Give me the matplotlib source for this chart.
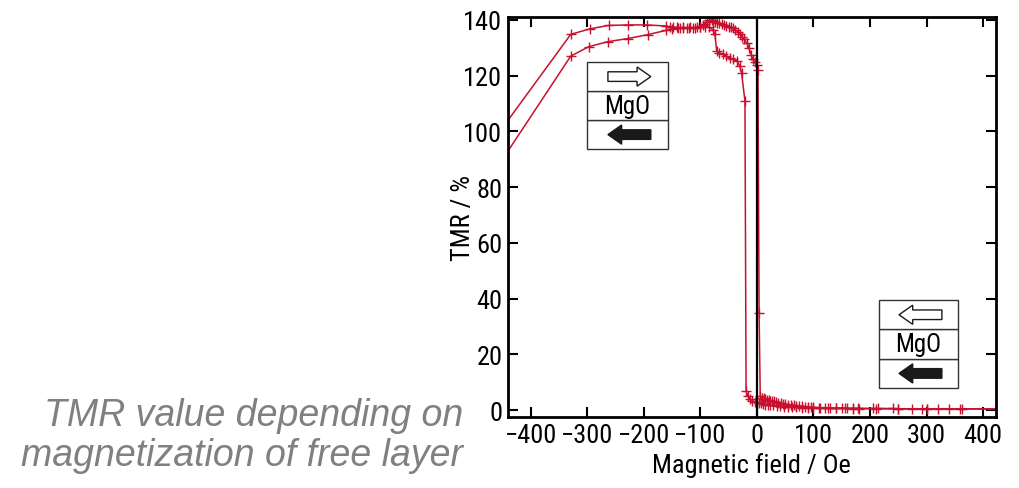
import matplotlib
matplotlib.use("Agg")
import matplotlib.pyplot as plt
from matplotlib import font_manager
from matplotlib.patches import Rectangle, Polygon

RED = "#c8102e"

# branch that stays high up to ~0 Oe
upper_h = [-460, -329, -295, -262, -228, -195, -160, -154, -148, -142, -136, -130, -124,
           -118, -112, -106, -101, -96, -92, -88, -84, -80, -77, -74, -70, -66, -62, -58,
           -54, -50, -46, -42, -38, -34, -30, -26, -22, -18, -14, -10, -7, -4, 0, 2, 4]
upper_t = [98.4, 134.8, 136.8, 138.0, 138.2, 138.2, 137.8, 137.5, 137.4, 137.3, 137.2, 137.3,
           137.2, 137.3, 137.2, 137.4, 137.5, 138.0, 138.6, 139.2, 139.8, 140.0, 139.6, 139.3,
           139.0, 138.8, 138.5, 138.2, 137.9, 137.6, 137.4, 137.0, 136.4, 135.8, 135.0, 134.0,
           133.0, 131.8, 130.0, 127.5, 125.8, 124.8, 123.8, 122.0, 35.0]
upper_tail_h = [6, 9, 12, 15, 18, 21, 24, 27, 30, 34, 38, 42, 46, 50, 55, 60, 65, 70, 75,
                80, 85, 90, 95, 100, 110, 120, 130, 140, 150, 160, 170, 178, 205, 215, 240,
                250, 275, 292, 300, 320, 340, 362, 440]
upper_tail_t = [5.0, 4.5, 4.2, 4.0, 3.8, 3.6, 3.4, 3.3, 3.1, 2.9, 2.7, 2.5, 2.3, 2.2, 2.0,
                1.8, 1.7, 1.6, 1.5, 1.4, 1.3, 1.2, 1.1, 1.0, 0.9, 0.9, 0.8, 0.8, 0.8, 0.7,
                0.7, 0.7, 0.6, 0.6, 0.6, 0.5, 0.5, 0.5, 0.5, 0.5, 0.5, 0.5, 0.4]

# branch that switches near -20 Oe
lower_h = [-460, -329, -297, -263, -228, -193, -161, -150, -140, -130, -120, -110, -100,
           -92, -85, -78, -74, -71, -66, -60, -54, -48, -42, -35, -30, -27, -21, -19, -16,
           -12, -8, -4, 0, 3, 7, 11, 15, 19, 24, 29, 35, 41, 48, 55, 62, 70, 80, 90, 100,
           112, 125, 140, 155, 170, 180, 210, 250, 300, 360, 440]
lower_t = [86.8, 127.0, 130.4, 132.2, 133.3, 134.7, 136.2, 136.8, 137.0, 137.1, 137.2, 137.2,
           137.3, 137.4, 137.5, 136.5, 134.8, 128.8, 128.2, 127.6, 127.0, 126.4, 125.8, 125.2,
           123.4, 121.0, 110.9, 6.8, 5.0, 4.0, 3.4, 3.0, 2.8, 2.6, 2.4, 2.2, 2.0, 1.9, 1.8,
           1.7, 1.5, 1.4, 1.3, 1.2, 1.1, 1.0, 0.9, 0.8, 0.7, 0.7, 0.6, 0.6, 0.6, 0.5, 0.5,
           0.5, 0.4, 0.4, 0.4, 0.4]

x_ticks = [-400, -300, -200, -100, 0, 100, 200, 300, 400]
y_ticks = [0, 20, 40, 60, 80, 100, 120, 140]

# the original uses a condensed face; take one if the box has it
fonts = font_manager.fontManager.ttflist
names = {f.name for f in fonts}
cond = None
for n in ["Liberation Sans Narrow", "Roboto Condensed", "Open Sans Condensed",
          "Noto Sans Condensed", "DejaVu Sans Condensed"]:
    if n in names:
        cond = (n, "normal")
        break
if cond is None:
    for f in fonts:
        if "condensed" in str(f.stretch) or f.stretch in (300, 400 - 100):
            cond = (f.name, "condensed")
            break
if cond is None:
    cond = ("DejaVu Sans", "normal")
FONT = dict(family=[cond[0], "DejaVu Sans"], stretch=cond[1])
FS = 19 if cond[0] != "DejaVu Sans" else 14


def draw_arrow(ax, xc, yc, length, direction, filled):
    # arrow in axes fraction, shaft and head sizes tuned by eye
    half = length / 2
    head = length * 0.32
    sh, hh = 0.012, 0.024
    x0, x1 = xc - half * direction, xc + half * direction
    xb = x1 - head * direction
    pts = [(x0, yc - sh), (xb, yc - sh), (xb, yc - hh), (x1, yc),
           (xb, yc + hh), (xb, yc + sh), (x0, yc + sh)]
    ax.add_patch(Polygon(pts, closed=True, transform=ax.transAxes,
                         facecolor="#1a1a1a" if filled else "white",
                         edgecolor="#1a1a1a", lw=1.0, zorder=6))


def draw_stack(ax, x0, x1, y0, y1, top_dir):
    rh = (y1 - y0) / 3
    for i in range(3):
        ax.add_patch(Rectangle((x0, y0 + i * rh), x1 - x0, rh, transform=ax.transAxes,
                               facecolor="white", edgecolor="#333333", lw=1.0, zorder=5))
    xc = (x0 + x1) / 2 + 0.004
    draw_arrow(ax, xc, y0 + 2.5 * rh, 0.088, top_dir, False)
    ax.text(xc - 0.004, y0 + 1.5 * rh, "MgO", transform=ax.transAxes, ha="center",
            va="center", fontsize=FS - 1, zorder=7, **FONT)
    draw_arrow(ax, xc, y0 + 0.5 * rh, 0.088, -1, True)


fig = plt.figure(figsize=(10.2, 4.89), dpi=100)
ax = fig.add_axes([0.498, 0.145, 0.478, 0.818])

ax.plot(upper_h, upper_t, color=RED, lw=1.1, marker="+", ms=7, mew=1.0)
ax.plot(upper_tail_h, upper_tail_t, color=RED, lw=1.1, marker="+", ms=7, mew=1.0)
ax.plot([upper_h[-1], upper_tail_h[0]], [upper_t[-1], upper_tail_t[0]], color=RED, lw=1.1)
ax.plot(lower_h, lower_t, color=RED, lw=1.1, marker="+", ms=7, mew=1.0)
ax.axvline(0, color="black", lw=1.6)

ax.set_xlim(-440, 422)
ax.set_ylim(-2.5, 141)
ax.set_xticks(x_ticks)
ax.set_yticks(y_ticks)
ax.tick_params(direction="in", length=7, width=1.5, top=True, right=True,
               labeltop=False, labelright=False, pad=4)
for lab in ax.get_xticklabels() + ax.get_yticklabels():
    lab.set_fontsize(FS)
    lab.set_family(FONT["family"])
    lab.set_stretch(FONT["stretch"])
for s in ax.spines.values():
    s.set_linewidth(2)
ax.set_xlabel("Magnetic field / Oe", fontsize=FS, labelpad=4, **FONT)
ax.set_ylabel("TMR / %", fontsize=FS, labelpad=-8, **FONT)

draw_stack(ax, 0.162, 0.328, 0.67, 0.8875, 1)
draw_stack(ax, 0.760, 0.924, 0.0725, 0.2925, -1)

fig.text(0.454, 0.03, "TMR value depending on\nmagnetization of free layer",
         ha="right", va="bottom", fontsize=27, style="italic", color="#808080",
         family="Liberation Sans", linespacing=1.15)

fig.savefig("out.png", dpi=100)
